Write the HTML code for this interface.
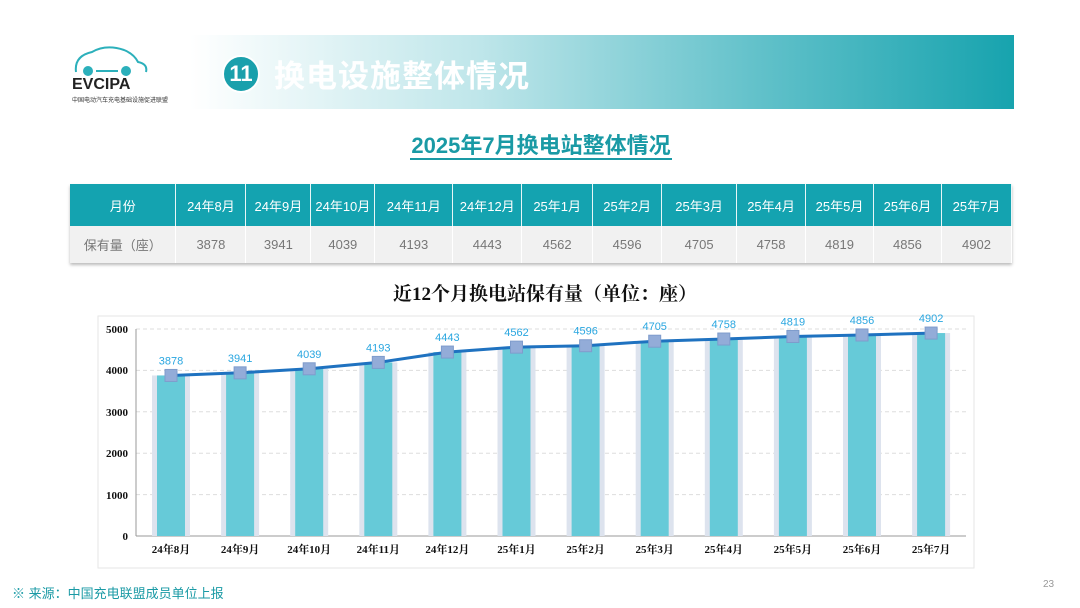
<!DOCTYPE html>
<html><head><meta charset="utf-8"><style>
body{margin:0;width:1080px;height:608px;background:#fff;position:relative;overflow:hidden;font-family:"Liberation Sans","Noto Sans CJK SC",sans-serif}
.ab{position:absolute}
table{border-collapse:collapse;position:absolute;left:70px;top:184px;width:942px;box-shadow:0 2px 3px #bbb}
td{text-align:center;font-size:13px;padding:0}
tr.h td{background:#14a3b0;color:#fff;height:42px;border-right:1px solid #e8f6f7}
tr.d td{background:#f1f1f1;color:#777;height:37px;border-right:1px solid #fff}
</style></head><body>
<div class="ab" style="left:190px;top:35px;width:824px;height:74px;background:linear-gradient(90deg,#fff 0%,#bfe6ea 35%,#5fc0c9 70%,#17a3ae 100%)"></div>
<div class="ab" style="left:222px;top:55px;width:34px;height:34px;border-radius:50%;background:#1aa0ac;border:2px solid #fff;color:#fff;font-weight:bold;font-size:22px;line-height:34px;text-align:center">11</div>
<div class="ab" style="left:274px;top:51px;color:#fff;font-size:31px;font-weight:bold;letter-spacing:1px">换电设施整体情况</div>
<svg class="ab" style="left:72px;top:42px" width="80" height="36"><path d="M4 30 Q2 14 20 10 Q34 2 52 8 Q62 12 66 20 Q76 22 74 30" fill="none" stroke="#2cb0bb" stroke-width="2"/><circle cx="16" cy="29" r="5" fill="#2cb0bb"/><circle cx="54" cy="29" r="5" fill="#2cb0bb"/><line x1="24" y1="29" x2="46" y2="29" stroke="#2cb0bb" stroke-width="2"/></svg>
<div class="ab" style="left:72px;top:76px;font-size:16px;font-weight:bold;color:#222">EVCIPA</div>
<div class="ab" style="left:72px;top:95px;font-size:6px;color:#333">中国电动汽车充电基础设施促进联盟</div>
<div class="ab" style="left:0;width:1082px;top:128px;text-align:center;font-size:22px;font-weight:bold;color:#1a9aa5"><span style="border-bottom:2px solid #1a9aa5;padding:0 1px">2025年7月换电站整体情况</span></div>
<table>
<colgroup><col style="width:106px"><col style="width:70px"><col style="width:65px"><col style="width:64px"><col style="width:78px"><col style="width:69px"><col style="width:71px"><col style="width:69px"><col style="width:75px"><col style="width:69px"><col style="width:68px"><col style="width:68px"><col style="width:70px"></colgroup>
<tr class="h"><td>月份</td><td>24年8月</td><td>24年9月</td><td>24年10月</td><td>24年11月</td><td>24年12月</td><td>25年1月</td><td>25年2月</td><td>25年3月</td><td>25年4月</td><td>25年5月</td><td>25年6月</td><td>25年7月</td></tr>
<tr class="d"><td>保有量（座）</td><td>3878</td><td>3941</td><td>4039</td><td>4193</td><td>4443</td><td>4562</td><td>4596</td><td>4705</td><td>4758</td><td>4819</td><td>4856</td><td>4902</td></tr>
</table>
<div class="ab" style="left:0;width:1090px;top:279px;text-align:center;font-size:19px;font-weight:bold;font-family:'Liberation Serif','Noto Serif CJK SC',serif;color:#111">近12个月换电站保有量（单位：座）</div>
<svg class="ab" style="left:0;top:0" width="1080" height="608" font-family="Liberation Serif,Noto Serif CJK SC,serif">
<rect x="98" y="316" width="876" height="252" fill="none" stroke="#e6e6e6"/>
<g stroke="#ddd" stroke-dasharray="4,3">
<line x1="136" x2="966" y1="329" y2="329"/><line x1="136" x2="966" y1="370.4" y2="370.4"/><line x1="136" x2="966" y1="411.8" y2="411.8"/><line x1="136" x2="966" y1="453.2" y2="453.2"/><line x1="136" x2="966" y1="494.6" y2="494.6"/></g>
<line x1="136" x2="966" y1="536" y2="536" stroke="#999"/>
<line x1="136" x2="136" y1="329" y2="536" stroke="#999"/>
<g font-size="11" font-weight="bold" text-anchor="end" fill="#111">
<text x="128" y="333">5000</text><text x="128" y="374">4000</text><text x="128" y="416">3000</text><text x="128" y="457">2000</text><text x="128" y="499">1000</text><text x="128" y="540">0</text></g>
<g id="g"></g>
</svg>
<div class="ab" style="left:12px;top:583px;font-size:13px;color:#1a9aa5">※  来源：中国充电联盟成员单位上报</div>
<div class="ab" style="left:1043px;top:579px;font-size:10px;color:#999">23</div>
<script>
var v=[3878,3941,4039,4193,4443,4562,4596,4705,4758,4819,4856,4902],
l=["24年8月","24年9月","24年10月","24年11月","24年12月","25年1月","25年2月","25年3月","25年4月","25年5月","25年6月","25年7月"],
s="",p=[];
for(var i=0;i<12;i++){var x=171+i*69.1,y=536-v[i]*0.0414;p.push(x.toFixed(1)+","+y.toFixed(1));
s+='<rect x="'+(x-19)+'" y="'+y+'" width="38" height="'+(536-y)+'" fill="#dde3ee"/>';
s+='<rect x="'+(x-14)+'" y="'+y+'" width="28" height="'+(536-y)+'" fill="#66cad8"/>';
s+='<text x="'+x+'" y="553" font-size="11" font-weight="bold" text-anchor="middle" fill="#111">'+l[i]+'</text>';}
s+='<polyline points="'+p.join(" ")+'" fill="none" stroke="#1f72c0" stroke-width="3"/>';
for(i=0;i<12;i++){var x=171+i*69.1,y=536-v[i]*0.0414;
s+='<rect x="'+(x-6)+'" y="'+(y-6)+'" width="12" height="12" fill="#93acd8" stroke="#7f9ccc"/>';
s+='<text x="'+x+'" y="'+(y-11)+'" font-size="11" font-family="Liberation Sans" text-anchor="middle" fill="#29a6e0">'+v[i]+'</text>';}
document.getElementById("g").innerHTML=s;
</script>
</body></html>
